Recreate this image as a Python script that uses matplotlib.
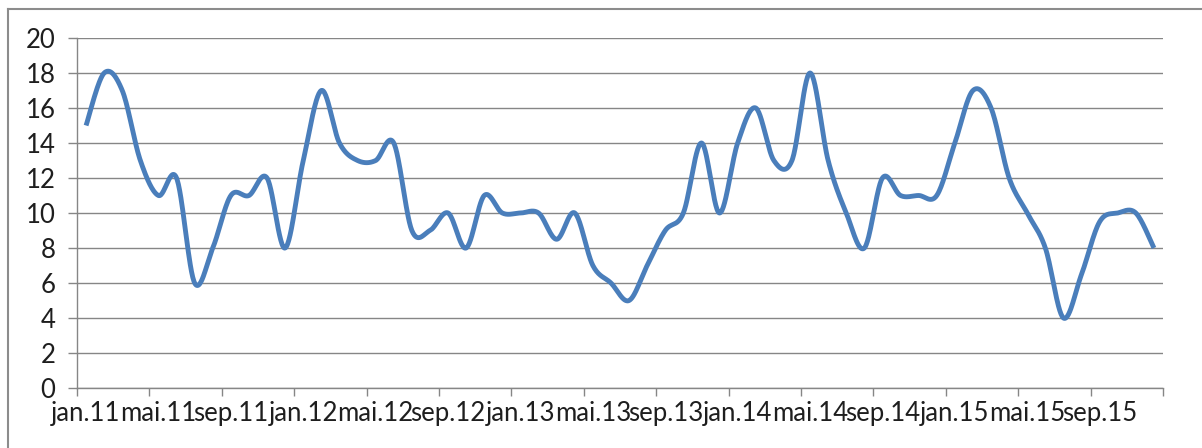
import numpy as np
import matplotlib.pyplot as plt
from matplotlib.lines import Line2D

# monthly values, jan.11 .. dec.15
values = [15, 18, 17, 13, 11, 12, 6, 8, 11, 11, 12, 8,
          13, 17, 14, 13, 13, 14, 9, 9, 10, 8, 11, 10,
          10, 10, 8.5, 10, 7, 6, 5, 7, 9, 10, 14, 10,
          14, 16, 13, 13, 18, 13, 10, 8, 12, 11, 11, 11,
          14, 17, 16, 12, 10, 8, 4, 6.5, 9.5, 10, 10, 8]
tick_labels = ['jan.11', 'mai.11', 'sep.11', 'jan.12', 'mai.12', 'sep.12',
               'jan.13', 'mai.13', 'sep.13', 'jan.14', 'mai.14', 'sep.14',
               'jan.15', 'mai.15', 'sep.15']


def smooth(x, y, n=30):
    # bezier segments with catmull-rom style control points (like Excel's smoothed line)
    x = np.asarray(x, float)
    y = np.asarray(y, float)
    px = np.concatenate([[x[0]], x, [x[-1]]])
    py = np.concatenate([[y[0]], y, [y[-1]]])
    t = np.linspace(0, 1, n)
    xs, ys = [], []
    for i in range(len(x) - 1):
        p0 = np.array([px[i], py[i]])
        p1 = np.array([px[i + 1], py[i + 1]])
        p2 = np.array([px[i + 2], py[i + 2]])
        p3 = np.array([px[i + 3], py[i + 3]])
        c1 = p1 + (p2 - p0) / 6
        c2 = p2 - (p3 - p1) / 6
        b = ((1 - t) ** 3)[:, None] * p1 + (3 * (1 - t) ** 2 * t)[:, None] * c1 \
            + (3 * (1 - t) * t ** 2)[:, None] * c2 + (t ** 3)[:, None] * p2
        xs.append(b[:, 0])
        ys.append(b[:, 1])
    return np.concatenate(xs), np.concatenate(ys)


plt.rcParams['font.family'] = ['Lato', 'DejaVu Sans']

fig = plt.figure(figsize=(12.02, 4.48), dpi=100)
ax = fig.add_axes([77 / 1202, 60 / 448, 1086 / 1202, 350 / 448])

grid_col = '#868686'
x = np.arange(len(values)) + 0.5
sx, sy = smooth(x, values)
ax.plot(sx, sy, color='#4a7ebb', lw=3.5, solid_capstyle='butt', zorder=3)

ax.set_xlim(0, len(values))
ax.set_ylim(0, 20)
ax.set_yticks(range(0, 21, 2))
ax.yaxis.grid(True, color=grid_col, lw=1.0)
ax.set_axisbelow(True)

ax.set_xticks(range(0, len(values) + 1, 4))
ax.set_xticklabels([])
ax.set_xticks(np.arange(len(tick_labels)) * 4 + 0.5, minor=True)
ax.set_xticklabels(tick_labels, minor=True)
ax.tick_params(axis='x', which='major', length=6, width=1, color=grid_col, direction='out')
ax.tick_params(axis='x', which='minor', length=0, pad=9, labelsize=18.5, labelcolor='#1e1e1e')
ax.tick_params(axis='y', length=6.5, width=1, color=grid_col, pad=9, labelsize=18.5,
               labelcolor='#1e1e1e')

for s in ['top', 'right']:
    ax.spines[s].set_visible(False)
for s in ['left', 'bottom']:
    ax.spines[s].set_color(grid_col)
    ax.spines[s].set_linewidth(1.0)

# chart frame
fig.add_artist(Line2D([8 / 1202, 8 / 1202], [0, 1 - 9 / 448], color='#8c8c8c', lw=1.5))
fig.add_artist(Line2D([8 / 1202, 1], [1 - 9 / 448, 1 - 9 / 448], color='#8c8c8c', lw=1.5))

fig.savefig('out.png', dpi=100)
